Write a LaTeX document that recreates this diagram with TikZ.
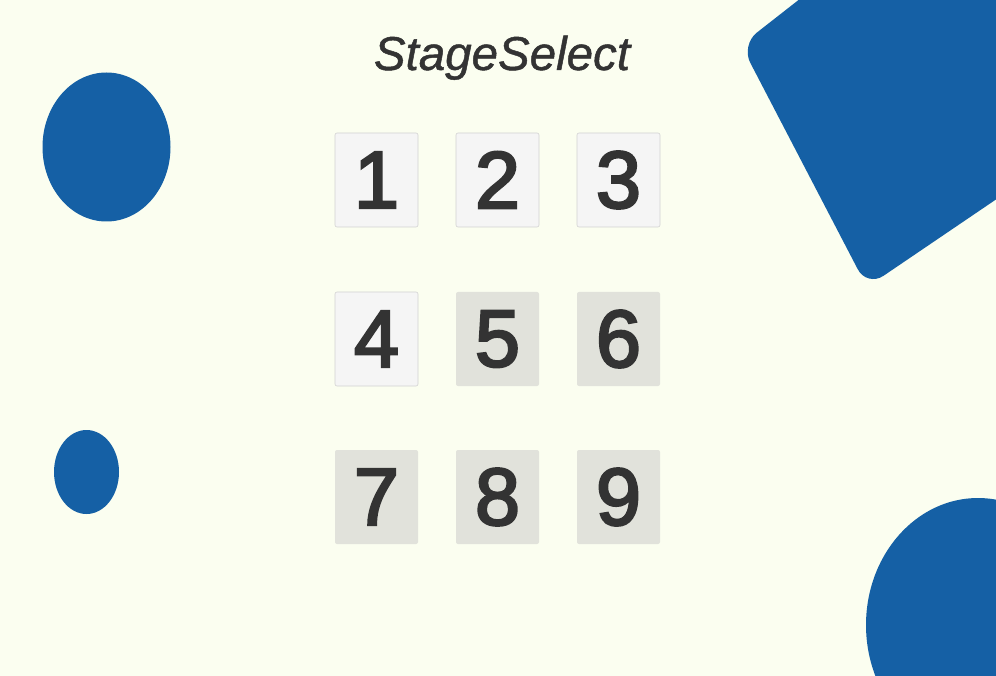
\documentclass[tikz,border=0pt]{standalone}
\usepackage{fontspec}
\setmainfont{Liberation Sans}
\newfontfamily\digitfont[FakeBold=3]{Liberation Sans}
\newfontfamily\titlefont[FakeBold=1]{Liberation Sans}
\usetikzlibrary{positioning}
\definecolor{bgcol}{HTML}{FBFEF0}
\definecolor{blob}{HTML}{1560A5}
\definecolor{lite}{HTML}{F5F5F5}
\definecolor{rim}{HTML}{D2D2D2}
\definecolor{dull}{HTML}{E1E2DB}
\definecolor{ink}{HTML}{333333}

\begin{document}
\begin{tikzpicture}
  [x=1pt, y=-1pt,
   stage/.style={rectangle, rounded corners=2pt, minimum width=83pt, minimum height=94pt,
     inner sep=0pt, outer sep=0pt, text=ink, font=\digitfont\fontsize{81}{81}\selectfont},
   open/.style={stage, fill=lite, draw=rim, line width=.6pt},
   shut/.style={stage, fill=dull}]
  % background %
  \fill[bgcol] (0,0) rectangle (996,676);
  \useasboundingbox (0,0) rectangle (996,676);
  \clip (0,0) rectangle (996,676);

  % shapes %
  \fill[blob] (106.5,147) ellipse [x radius=64pt, y radius=74.5pt];
  \fill[blob] (86.5,472) ellipse [x radius=32.5pt, y radius=42pt];
  \fill[blob] (978,625) ellipse [x radius=112pt, y radius=127pt];
  \fill[blob, rounded corners=20pt] (957,-124) -- (741,45) -- (867,287) -- (1091,135) -- (1200,-20) -- cycle;

  % title %
  \node[anchor=base, text=ink, font=\titlefont\itshape\fontsize{47.5}{47.5}\selectfont] (title) at (502,70) {StageSelect};

  % buttons %
  \node[open] (s1) at (376.5,180) {1};
  \node[open, right=38pt of s1] (s2) {2};
  \node[open, right=38pt of s2] (s3) {3};
  \node[open, below=65pt of s1] (s4) {4};
  \node[shut, right=38pt of s4] (s5) {5};
  \node[shut, right=38pt of s5] (s6) {6};
  \node[shut, below=64pt of s4] (s7) {7};
  \node[shut, right=38pt of s7] (s8) {8};
  \node[shut, right=38pt of s8] (s9) {9};
\end{tikzpicture}
\end{document}
